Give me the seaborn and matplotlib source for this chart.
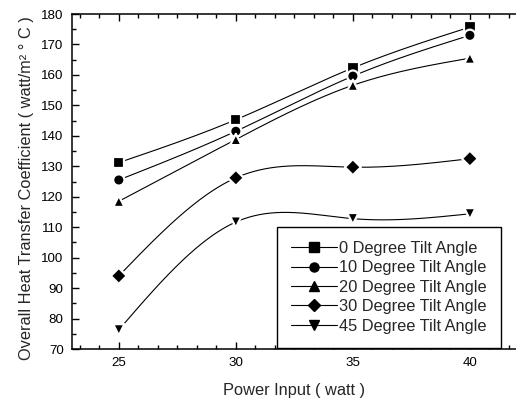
import numpy as np
import pandas as pd
import matplotlib
matplotlib.use("Agg")
import matplotlib.pyplot as plt
from matplotlib.lines import Line2D
from matplotlib.ticker import AutoMinorLocator
import seaborn as sns

power = [25, 30, 35, 40]
series_names = ["0 Degree Tilt Angle", "10 Degree Tilt Angle", "20 Degree Tilt Angle",
                "30 Degree Tilt Angle", "45 Degree Tilt Angle"]
deg0 = [131.2, 145.3, 162.3, 175.7]
deg10 = [125.5, 141.5, 159.6, 173.0]
deg20 = [118.5, 138.8, 156.6, 165.5]
deg30 = [94.0, 126.2, 129.7, 132.5]
deg45 = [76.3, 111.7, 112.8, 114.4]
marker_list = ["s", "o", "^", "D", "v"]
y_ticks = [70, 80, 90, 100, 110, 120, 130, 140, 150, 160, 170, 180]
x_ticks = [25, 30, 35, 40]

values = [deg0, deg10, deg20, deg30, deg45]
df = pd.DataFrame({
    "power": np.tile(power, len(series_names)),
    "value": np.concatenate(values),
    "series": np.repeat(series_names, len(power)),
})


def natural_spline(x, y, n=200):
    x = np.asarray(x, float)
    y = np.asarray(y, float)
    k = len(x)
    h = np.diff(x)
    A = np.zeros((k, k))
    b = np.zeros(k)
    A[0, 0] = 1
    A[-1, -1] = 1
    for i in range(1, k - 1):
        A[i, i - 1] = h[i - 1]
        A[i, i] = 2 * (h[i - 1] + h[i])
        A[i, i + 1] = h[i]
        b[i] = 6 * ((y[i + 1] - y[i]) / h[i] - (y[i] - y[i - 1]) / h[i - 1])
    M = np.linalg.solve(A, b)
    xs = np.linspace(x[0], x[-1], n)
    ys = np.empty_like(xs)
    for j, xv in enumerate(xs):
        i = min(np.searchsorted(x, xv, side="right") - 1, k - 2)
        t1 = x[i + 1] - xv
        t0 = xv - x[i]
        ys[j] = (M[i] * t1 ** 3 / (6 * h[i]) + M[i + 1] * t0 ** 3 / (6 * h[i])
                 + (y[i] / h[i] - M[i] * h[i] / 6) * t1
                 + (y[i + 1] / h[i] - M[i + 1] * h[i] / 6) * t0)
    return xs, ys


sns.set_theme(style="ticks")
plt.rcParams["font.family"] = ["Liberation Sans", "DejaVu Sans"]

fig = plt.figure(figsize=(5.16, 4.01), dpi=100)
ax = fig.add_axes([72 / 516, 1 - 349 / 401, 1 - 72 / 516, (349 - 14) / 401])

curves = []
for name, vals in zip(series_names, values):
    xs, ys = natural_spline(power, vals)
    curves.append(pd.DataFrame({"power": xs, "value": ys, "series": name}))
curve_df = pd.concat(curves, ignore_index=True)

sns.lineplot(data=curve_df, x="power", y="value", units="series", estimator=None,
             color="black", linewidth=0.8, ax=ax, legend=False, sort=False)
sns.scatterplot(data=df, x="power", y="value", style="series",
                markers=dict(zip(series_names, marker_list)), color="black",
                s=66, edgecolor="white", linewidth=1.6, ax=ax, legend=False, zorder=3)

ax.set_xlim(23, 41.97)
ax.set_ylim(70, 180)
ax.set_xticks(x_ticks)
ax.set_yticks(y_ticks)
ax.xaxis.set_minor_locator(AutoMinorLocator(6))
ax.yaxis.set_minor_locator(AutoMinorLocator(2))
ax.tick_params(which="both", direction="in", top=True, right=False,
               labelsize=9.6, colors="black", width=1.0, pad=6)
ax.tick_params(which="major", length=5)
ax.tick_params(which="minor", length=3)
for side in ["left", "bottom", "top"]:
    ax.spines[side].set_linewidth(1.1)
    ax.spines[side].set_color("black")
ax.spines["right"].set_visible(False)

ax.set_xlabel("Power Input ( watt )", fontsize=11.8, labelpad=10)
ax.set_ylabel("Overall Heat Transfer Coefficient ( watt/m² ° C )", fontsize=11.8)
ax.yaxis.set_label_coords(-0.085, 0.48)

handles = [Line2D([0], [0], color="black", lw=0.8, marker=m, markersize=6.5,
                  markerfacecolor="black", markeredgecolor="black")
           for m in marker_list]
leg = ax.legend(handles, series_names, loc="upper left",
                bbox_to_anchor=((277 - 72) / 444, (349 - 227) / 335),
                fontsize=11.8, frameon=True, fancybox=False, edgecolor="black",
                handlelength=2.8, handletextpad=0.15, labelspacing=0.27,
                borderpad=0.85, borderaxespad=0)
leg.get_frame().set_linewidth(1.0)
leg.get_frame().set_alpha(1)

fig.savefig("out.png", dpi=100)
